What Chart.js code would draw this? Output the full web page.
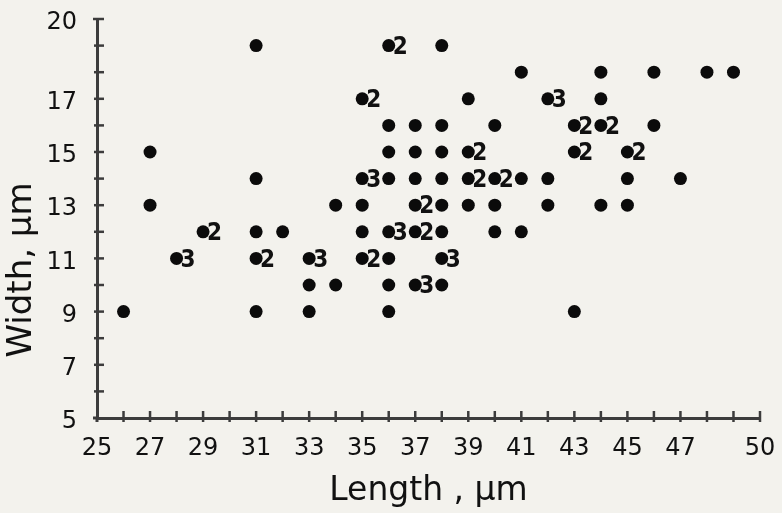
<!DOCTYPE html>
<html><head><meta charset="utf-8">
<script src="https://cdn.jsdelivr.net/npm/chart.js@4"></script>
<style>html,body{margin:0;padding:0;background:#f3f2ed;}#wrap{width:782px;height:513px;position:relative;}</style>
</head><body><div id="wrap"><canvas id="c"></canvas></div>
<script>
// Length (µm) of each plotted dot
const lengthUm = [
  31,36,38,
  41,44,46,48,49,
  35,39,42,44,
  36,37,38,40,43,44,46,
  27,36,37,38,39,43,45,
  31,35,36,37,38,39,40,41,42,45,47,
  27,34,35,37,38,39,40,42,44,45,
  29,31,32,35,36,37,38,40,41,
  28,31,33,35,36,38,
  33,34,36,37,38,
  26,31,33,36,43
];
// Width (µm) of each plotted dot
const widthUm = [
  19,19,19,
  18,18,18,18,18,
  17,17,17,17,
  16,16,16,16,16,16,16,
  15,15,15,15,15,15,15,
  14,14,14,14,14,14,14,14,14,14,14,
  13,13,13,13,13,13,13,13,13,13,
  12,12,12,12,12,12,12,12,12,
  11,11,11,11,11,11,
  10,10,10,10,10,
  9,9,9,9,9
];
// Number of specimens at each dot (1 = no label shown)
const countN = [
  1,2,1,
  1,1,1,1,1,
  2,1,3,1,
  1,1,1,1,2,2,1,
  1,1,1,1,2,2,2,
  1,3,1,1,1,2,2,1,1,1,1,
  1,1,1,2,1,1,1,1,1,1,
  2,1,1,1,3,2,1,1,1,
  3,2,3,2,1,3,
  1,1,1,3,1,
  1,1,1,1,1
];
const xTickLabels = [25,27,29,31,33,35,37,39,41,43,45,47,50];
const yTickLabels = [5,7,9,11,13,15,17,20];
const xTitle = 'Length , µm';
const yTitle = 'Width, µm';

const FONT = '"DejaVu Sans", sans-serif';
const FONT_NUM = '"DejaVu Sans Condensed", "DejaVu Sans", sans-serif';
const INK = '#111111';
const AXIS = '#3c3c3c';

const points = lengthUm.map((v,i)=>({x:v, y:widthUm[i], n:countN[i]}));

const paper = {
  id:'paper',
  beforeDraw(chart){
    const c = chart.ctx; c.save(); c.fillStyle='#f3f2ed'; c.fillRect(0,0,chart.width,chart.height); c.restore();
  }
};
const extras = {
  id:'extras',
  afterDatasetsDraw(chart){
    const {ctx, scales:{x,y}} = chart;
    const y0 = y.getPixelForValue(5), x0 = x.getPixelForValue(25);
    ctx.save();
    ctx.strokeStyle = AXIS; ctx.lineWidth = 2.5; ctx.lineCap='butt';
    x.ticks.forEach(t=>{
      if (t.value===25) return;
      const px = x.getPixelForValue(t.value);
      ctx.beginPath(); ctx.moveTo(px, y0-7); ctx.lineTo(px, y0+4); ctx.stroke();
    });
    y.ticks.forEach(t=>{
      if (t.value===5) return;
      const py = y.getPixelForValue(t.value);
      const l = t.value===20 ? 4 : 3;
      ctx.beginPath(); ctx.moveTo(x0-l, py); ctx.lineTo(x0+7, py); ctx.stroke();
    });
    ctx.lineWidth = 3;
    ctx.beginPath(); ctx.moveTo(x0-4, y0); ctx.lineTo(x0, y0); ctx.stroke();
    ctx.beginPath(); ctx.moveTo(x0, y0); ctx.lineTo(x0, y0+4); ctx.stroke();
    // multiplicity labels
    ctx.fillStyle = INK;
    ctx.font = 'bold 24px ' + FONT_NUM;
    ctx.textAlign = 'left'; ctx.textBaseline = 'middle';
    const meta = chart.getDatasetMeta(0);
    meta.data.forEach((el,i)=>{
      const n = points[i].n;
      if (n>1) ctx.fillText(String(n), el.x+4, el.y+2);
    });
    // y title
    ctx.font = '34px ' + FONT;
    ctx.textAlign='center'; ctx.textBaseline='middle';
    ctx.translate(22, 270); ctx.rotate(-Math.PI/2);
    ctx.fillText(yTitle, 0, 0);
    ctx.restore();
  }
};

new Chart(document.getElementById('c'), {
  type:'scatter',
  data:{datasets:[{data:points, backgroundColor:'#0b0b0b', borderWidth:0, pointRadius:6.5, pointHoverRadius:6.5}]},
  options:{
    responsive:true, maintainAspectRatio:false, animation:false,
    layout:{padding:{top:19, right:22, left:0, bottom:0}},
    plugins:{legend:{display:false}, tooltip:{enabled:false}},
    scales:{
      x:{
        type:'linear', min:25, max:50,
        afterFit(s){ s.height = 95; s.paddingLeft = 0; s.paddingRight = 0; },
        border:{display:true, color:AXIS, width:3},
        grid:{display:true, drawOnChartArea:false, drawTicks:false},
        ticks:{stepSize:1, autoSkip:false, maxRotation:0, padding:16, color:INK,
          font:{family:FONT, size:24},
          callback:(v)=> xTickLabels.includes(v) ? String(v) : ''},
        title:{display:true, text:xTitle, color:INK, font:{family:FONT, size:33}, padding:{top:0,bottom:2}}
      },
      y:{
        type:'linear', min:5, max:20,
        afterFit(s){ s.width = 97; s.paddingTop = 0; s.paddingBottom = 0; },
        border:{display:true, color:AXIS, width:3},
        grid:{display:true, drawOnChartArea:false, drawTicks:false},
        ticks:{stepSize:1, autoSkip:false, padding:20, labelOffset:4, color:INK,
          font:{family:FONT, size:24},
          callback:(v)=> yTickLabels.includes(v) ? String(v) : ''}
      }
    }
  },
  plugins:[paper, extras]
});
</script></body></html>
